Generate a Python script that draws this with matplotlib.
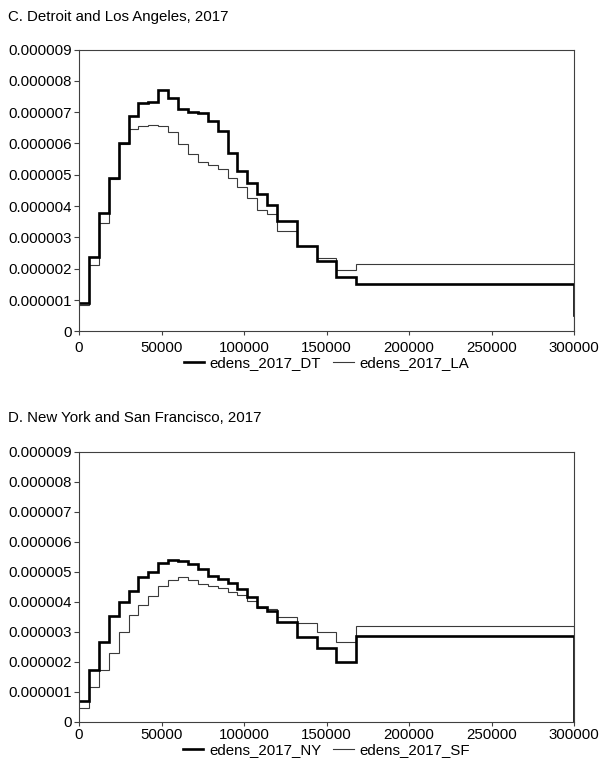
import numpy as np
import matplotlib
matplotlib.use("Agg")
import matplotlib.pyplot as plt
from matplotlib.ticker import FuncFormatter
from matplotlib.lines import Line2D

plt.rcParams['font.family'] = ['Liberation Sans', 'DejaVu Sans']

# bin edges (income, 2017 dollars)
edges = [0, 6000, 12000, 18000, 24000, 30000, 36000, 42000, 48000, 54000, 60000,
         66000, 72000, 78000, 84000, 90000, 96000, 102000, 108000, 114000, 120000,
         132000, 144000, 156000, 168000, 300000]

# densities (in units of 1e-6)
dt = [0.91, 2.38, 3.79, 4.91, 6.03, 6.87, 7.28, 7.32, 7.70, 7.46, 7.10, 7.02, 6.96,
      6.72, 6.39, 5.70, 5.12, 4.74, 4.38, 4.03, 3.53, 2.73, 2.24, 1.74, 1.51]
la = [0.85, 2.12, 3.45, 4.88, 5.98, 6.45, 6.57, 6.58, 6.55, 6.37, 5.97, 5.65, 5.41,
      5.30, 5.18, 4.91, 4.62, 4.26, 3.89, 3.75, 3.21, 2.73, 2.34, 1.96, 2.14]
ny = [0.70, 1.72, 2.65, 3.52, 3.98, 4.37, 4.83, 4.98, 5.30, 5.39, 5.37, 5.26, 5.09,
      4.86, 4.75, 4.63, 4.42, 4.15, 3.81, 3.70, 3.33, 2.83, 2.45, 1.98, 2.86]
sf = [0.47, 1.15, 1.72, 2.30, 2.98, 3.56, 3.89, 4.19, 4.53, 4.72, 4.81, 4.72, 4.58,
      4.52, 4.47, 4.31, 4.22, 4.02, 3.79, 3.76, 3.48, 3.28, 3.00, 2.65, 3.19]
# level where each curve ends at the right edge
dt_end, la_end, ny_end, sf_end = 0.52, 0.0, 0.0, 0.0

titles = ["C. Detroit and Los Angeles, 2017", "D. New York and San Francisco, 2017"]
labels = [("edens_2017_DT", "edens_2017_LA"), ("edens_2017_NY", "edens_2017_SF")]
yticks = [0, 1, 2, 3, 4, 5, 6, 7, 8, 9]
xticks = [0, 50000, 100000, 150000, 200000, 250000, 300000]

FS = 10.8
fig = plt.figure(figsize=(5.99, 7.67), dpi=100)

W, H = 599, 767
def fr(x0, y0, x1, y1):
    return [x0 / W, 1 - y1 / H, (x1 - x0) / W, (y1 - y0) / H]

ax_pos = [fr(79, 49.5, 574, 331.5), fr(79, 451.7, 574, 721.7)]
title_y = [17, 418]
leg_y = [363, 750]
xpad = [4, 2]
series = [((dt, dt_end), (la, la_end)), ((ny, ny_end), (sf, sf_end))]


def step_xy(vals, end):
    e = np.asarray(edges, float)
    v = np.asarray(vals, float) * 1e-6
    xs = np.repeat(e, 2)[1:-1]
    ys = np.repeat(v, 2)
    xs = np.append(xs, e[-1])
    ys = np.append(ys, end * 1e-6)
    return xs, ys

for i in range(2):
    ax = fig.add_axes(ax_pos[i])
    (a, a_end), (b, b_end) = series[i]
    xb, yb = step_xy(b, b_end)
    xa, ya = step_xy(a, a_end)
    ax.plot(xb, yb, color='#3a3a3a', lw=0.8, solid_joinstyle='miter')
    ax.plot(xa, ya, color='black', lw=1.9, solid_joinstyle='miter')
    ax.set_xlim(0, 300000)
    ax.set_ylim(0, 9e-6)
    ax.set_xticks(xticks)
    ax.set_yticks([t * 1e-6 for t in yticks])
    ax.xaxis.set_major_formatter(FuncFormatter(lambda v, p: f"{int(round(v))}"))
    ax.yaxis.set_major_formatter(FuncFormatter(lambda v, p: "0" if abs(v) < 1e-12 else f"{v:.6f}"))
    ax.tick_params(axis='both', labelsize=FS, colors='black', width=0.8)
    ax.tick_params(axis='y', length=3.6, pad=1.5, color='#404040')
    ax.tick_params(axis='x', length=2.6, pad=xpad[i], color='#404040')
    for s in ax.spines.values():
        s.set_color('#404040')
        s.set_linewidth(0.8)
    fig.text(8 / W, 1 - title_y[i] / H, titles[i], fontsize=FS, ha='left', va='center')
    handles = [Line2D([], [], color='black', lw=1.9),
               Line2D([], [], color='#3a3a3a', lw=0.8)]
    fig.legend(handles, labels[i], loc='center', ncol=2, frameon=False, fontsize=FS,
               bbox_to_anchor=(326.5 / W, 1 - leg_y[i] / H), handlelength=1.35,
               handletextpad=0.4, columnspacing=0.8, borderaxespad=0, borderpad=0)

fig.savefig("out.png", dpi=100)
